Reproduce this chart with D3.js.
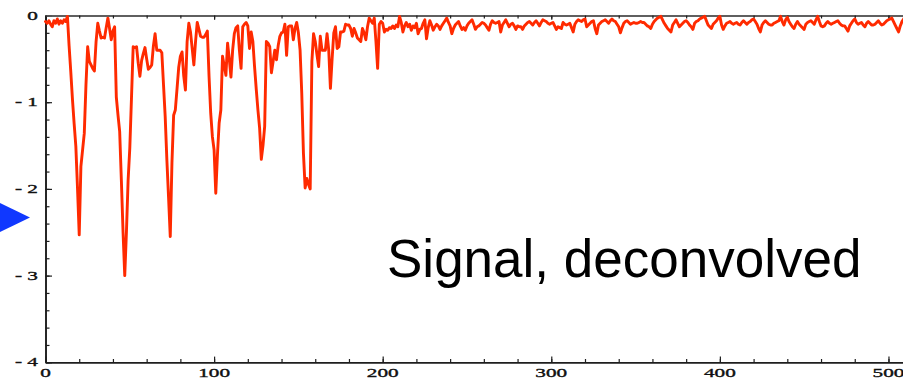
<!DOCTYPE html>
<html>
<head>
<meta charset="utf-8">
<script src="https://cdn.jsdelivr.net/npm/d3@7"></script>
<style>
  html, body { margin: 0; padding: 0; background: #ffffff; overflow: hidden; }
  svg { display: block; }
</style>
</head>
<body>
<svg id="chart" width="903" height="379"></svg>
<script>
// ---- data ----
// sample index 0..511, deconvolved signal value
const signal = [
 -0.07,-0.09,-0.06,-0.10,-0.13,-0.06,-0.09,-0.04,-0.10,-0.06,
 -0.09,-0.05,-0.07,-0.01,-0.35,-0.65,-0.97,-1.25,-1.51,-2.00,
 -2.53,-1.74,-1.55,-1.36,-0.80,-0.36,-0.53,-0.57,-0.61,-0.64,
 -0.30,-0.09,-0.18,-0.26,-0.25,-0.26,-0.14,-0.03,-0.15,-0.28,
 -0.18,-0.13,-0.94,-1.15,-1.34,-1.90,-2.50,-3.00,-2.50,-1.90,
 -1.53,-0.95,-0.36,-0.37,-0.36,-0.55,-0.70,-0.52,-0.44,-0.37,
 -0.50,-0.62,-0.60,-0.57,-0.35,-0.21,-0.40,-0.40,-0.40,-0.43,
 -0.80,-1.17,-1.67,-2.10,-2.55,-1.70,-1.15,-1.09,-0.85,-0.60,
 -0.47,-0.42,-0.70,-0.86,-0.30,-0.09,-0.19,-0.38,-0.57,-0.30,
 -0.08,-0.16,-0.24,-0.25,-0.25,-0.22,-0.18,-0.70,-1.13,-1.40,
 -1.55,-2.05,-1.60,-1.24,-1.09,-0.47,-0.58,-0.69,-0.32,-0.50,
 -0.71,-0.40,-0.21,-0.14,-0.12,-0.40,-0.61,-0.13,-0.10,-0.08,
 -0.12,-0.38,-0.19,-0.30,-0.59,-0.85,-1.09,-1.30,-1.66,-1.50,
 -1.28,-0.30,-0.32,-0.36,-0.66,-0.53,-0.40,-0.51,-0.35,-0.24,
 -0.20,-0.19,-0.10,-0.46,-0.13,-0.12,-0.12,-0.28,-0.15,-0.08,
 -0.20,-0.40,-0.90,-1.59,-1.99,-1.88,-1.95,-2.00,-0.53,-0.21,
 -0.30,-0.45,-0.59,-0.24,-0.40,-0.40,-0.40,-0.21,-0.40,-0.84,
 -0.50,-0.20,-0.13,-0.38,-0.36,-0.19,-0.19,-0.18,-0.10,-0.11,
 -0.11,-0.15,-0.24,-0.15,-0.20,-0.26,-0.28,-0.30,-0.15,-0.20,
 -0.28,-0.13,-0.03,-0.06,-0.09,-0.03,-0.30,-0.61,-0.10,-0.07,
 -0.09,-0.19,-0.16,-0.17,-0.14,-0.15,-0.12,-0.15,-0.11,-0.13,
 -0.01,-0.08,-0.19,-0.12,-0.08,-0.13,-0.10,-0.17,-0.12,-0.14,
 -0.09,-0.21,-0.16,-0.15,-0.09,-0.05,-0.27,-0.14,-0.06,-0.11,
 -0.17,-0.13,-0.10,-0.12,-0.16,-0.12,-0.09,-0.06,-0.03,-0.08,
 -0.12,-0.21,-0.15,-0.11,-0.09,-0.07,-0.12,-0.16,-0.14,-0.17,
 -0.12,-0.09,-0.07,-0.05,-0.10,-0.16,-0.13,-0.12,-0.10,-0.08,
 -0.09,-0.11,-0.14,-0.17,-0.10,-0.06,-0.08,-0.09,-0.08,-0.07,
 -0.19,-0.11,-0.08,-0.05,-0.09,-0.13,-0.10,-0.09,-0.12,-0.16,
 -0.12,-0.13,-0.13,-0.16,-0.12,-0.10,-0.08,-0.07,-0.09,-0.11,
 -0.08,-0.06,-0.09,-0.12,-0.08,-0.05,-0.06,-0.07,-0.09,-0.10,
 -0.09,-0.08,-0.12,-0.16,-0.13,-0.14,-0.15,-0.08,-0.10,-0.11,
 -0.10,-0.09,-0.14,-0.19,-0.10,-0.07,-0.05,-0.06,-0.07,-0.05,
 -0.04,-0.13,-0.11,-0.09,-0.07,-0.06,-0.15,-0.21,-0.11,-0.09,
 -0.07,-0.06,-0.05,-0.07,-0.09,-0.06,-0.04,-0.06,-0.07,-0.10,
 -0.13,-0.20,-0.14,-0.09,-0.07,-0.06,-0.08,-0.10,-0.09,-0.08,
 -0.09,-0.09,-0.08,-0.07,-0.08,-0.08,-0.10,-0.12,-0.13,-0.15,
 -0.10,-0.07,-0.05,-0.03,-0.02,-0.01,-0.05,-0.09,-0.12,-0.15,
 -0.17,-0.19,-0.11,-0.08,-0.05,-0.09,-0.13,-0.11,-0.09,-0.07,
 -0.06,-0.08,-0.11,-0.13,-0.16,-0.09,-0.07,-0.06,-0.04,-0.03,
 -0.02,-0.01,-0.06,-0.11,-0.13,-0.15,-0.10,-0.08,-0.06,-0.03,
 -0.01,-0.11,-0.16,-0.12,-0.09,-0.08,-0.07,-0.09,-0.10,-0.09,
 -0.08,-0.10,-0.11,-0.08,-0.06,-0.08,-0.10,-0.08,-0.07,-0.05,
 -0.04,-0.07,-0.10,-0.15,-0.19,-0.11,-0.08,-0.06,-0.08,-0.10,
 -0.11,-0.11,-0.09,-0.08,-0.07,-0.06,-0.01,-0.07,-0.11,-0.05,
 -0.02,-0.07,-0.10,-0.13,-0.15,-0.10,-0.07,-0.10,-0.12,-0.14,
 -0.16,-0.10,-0.08,-0.07,-0.06,-0.08,-0.10,-0.05,-0.01,-0.07,
 -0.12,-0.13,-0.12,-0.09,-0.07,-0.09,-0.10,-0.09,-0.08,-0.07,
 -0.06,-0.09,-0.11,-0.12,-0.12,-0.15,-0.18,-0.12,-0.09,-0.06,
 -0.04,-0.08,-0.10,-0.09,-0.08,-0.11,-0.13,-0.09,-0.07,-0.09,
 -0.11,-0.11,-0.10,-0.08,-0.06,-0.09,-0.11,-0.10,-0.08,-0.06,
 -0.05,-0.04,-0.03,-0.07,-0.11,-0.15,-0.19,-0.12,-0.07,-0.04,
 -0.01,-0.05
];
const xMajorTicks = [0, 100, 200, 300, 400, 500];
const xTickLabels = ["0", "100", "200", "300", "400", "500"];
const yMajorTicks = [0, -1, -2, -3, -4];
const yTickLabels = ["0", "- 1", "- 2", "- 3", "- 4"];
const xDomain = [0, 512];
const yDomain = [-4, 0];
const pointerLevel = -2.33;          // blue arrow marker level
const annotation = "Signal, deconvolved";

// ---- layout ----
const svg = d3.select("#chart");
const x = d3.scaleLinear().domain(xDomain).range([45.5, 908.7]);
const y = d3.scaleLinear().domain(yDomain).range([362.3, 15.5]);
const axisColor = "#1e1e1e";
const labelFont = "'Liberation Serif', 'Times New Roman', serif";
const labelStretch = 1.7;

const xMinor = d3.range(0, 521, 20);
const yMinor = d3.range(-4, 0.001, 0.2);

// left axis
const gLeft = svg.append("g").attr("transform", `translate(${x(0)},0)`);
gLeft.call(d3.axisLeft(y).tickValues(yMajorTicks).tickSize(-6.5).tickSizeOuter(0).tickFormat(""));
gLeft.append("g").call(d3.axisLeft(y).tickValues(yMinor).tickSize(-4).tickSizeOuter(0).tickFormat(""));

// bottom axis
const gBottom = svg.append("g").attr("transform", `translate(0,${y(-4)})`);
gBottom.call(d3.axisBottom(x).tickValues(xMajorTicks).tickSize(-5.7).tickSizeOuter(0).tickFormat(""));
gBottom.append("g").call(d3.axisBottom(x).tickValues(xMinor).tickSize(-3.3).tickSizeOuter(0).tickFormat(""));

// top frame
const gTop = svg.append("g").attr("transform", `translate(0,${y(0)})`);
gTop.call(d3.axisTop(x).tickValues(xMajorTicks).tickSize(-4.3).tickSizeOuter(0).tickFormat(""));
gTop.append("g").call(d3.axisTop(x).tickValues(xMinor).tickSize(-3).tickSizeOuter(0).tickFormat(""));

svg.selectAll(".domain").attr("stroke", axisColor).attr("stroke-width", 1.6);
svg.selectAll(".tick line").attr("stroke", axisColor).attr("stroke-width", 1.2);
gTop.selectAll(".domain").attr("stroke", "#555").attr("stroke-width", 1.6);

// tick labels (wide serif as in the reference)
svg.append("g").selectAll("text").data(yMajorTicks).join("text")
  .attr("transform", d => `translate(38,${y(d) + 4})scale(${labelStretch},1)`)
  .attr("text-anchor", "end")
  .attr("font-family", labelFont).attr("font-size", 12.5)
  .attr("fill", "#111").attr("stroke", "#111").attr("stroke-width", 0.35)
  .text((d, i) => yTickLabels[i]);

svg.append("g").selectAll("text").data(xMajorTicks).join("text")
  .attr("transform", d => `translate(${x(d)},376.7)scale(${labelStretch},1)`)
  .attr("text-anchor", "middle")
  .attr("font-family", labelFont).attr("font-size", 12.5)
  .attr("fill", "#111").attr("stroke", "#111").attr("stroke-width", 0.35)
  .text((d, i) => xTickLabels[i]);

// signal line
const line = d3.line().x((d, i) => x(i)).y(d => y(d));
svg.append("path").datum(signal)
  .attr("d", line)
  .attr("fill", "none")
  .attr("stroke", "#ff2a00")
  .attr("stroke-width", 2.9)
  .attr("stroke-linejoin", "round")
  .attr("stroke-linecap", "round");

// blue pointer triangle at the left
const py = y(pointerLevel);
svg.append("path")
  .attr("d", `M0,${py - 14.6}L30,${py}L0,${py + 14.6}Z`)
  .attr("fill", "#1038ff");

// annotation
svg.append("text")
  .attr("x", 387).attr("y", 277)
  .attr("font-family", "'Liberation Sans', Arial, Helvetica, sans-serif")
  .attr("font-size", 53).attr("fill", "#000")
  .text(annotation);
</script>
</body>
</html>
